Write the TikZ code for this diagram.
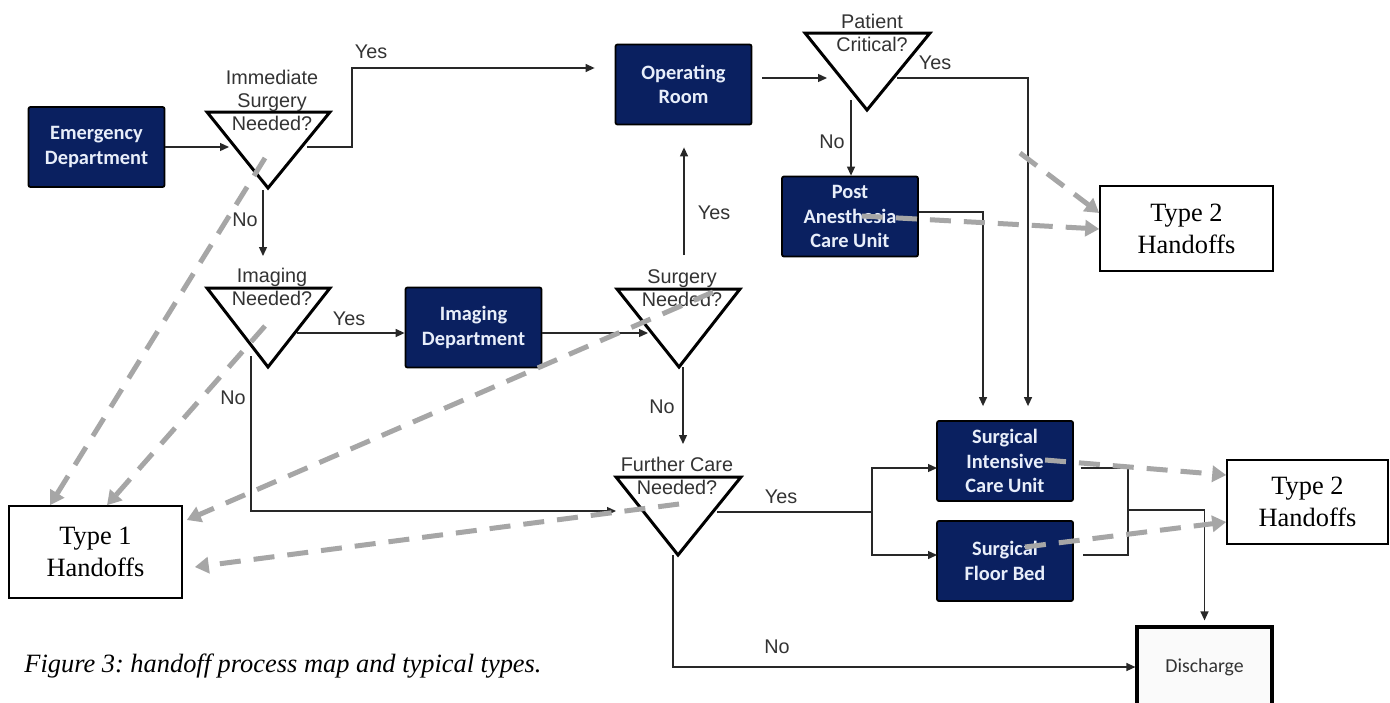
\documentclass[tikz,border=0pt]{standalone}
\usepackage{fontspec}
\setmainfont{Liberation Serif}
\newfontfamily\labelfont{Liberation Sans}
\newfontfamily\boxfont{Carlito}
\usetikzlibrary{arrows.meta}
\definecolor{navy}{RGB}{10,32,96}
\definecolor{handoff}{RGB}{166,166,166}
\definecolor{wire}{RGB}{40,40,40}
\definecolor{boxtext}{RGB}{232,238,250}
\frenchspacing

\begin{document}
\begin{tikzpicture}[x=0.5pt,y=-0.5pt,
  unit/.style={draw=black, line width=0.9pt, fill=navy, rounded corners=1pt,
    text=boxtext, font=\boxfont\bfseries\fontsize{10.2}{12.25}\selectfont,
    align=center, inner sep=0pt, minimum width=68pt, minimum height=40pt},
  exitbox/.style={draw=black, line width=1.6pt, fill=white!98!black,
    text=black!80, font=\boxfont\fontsize{9.9}{12}\selectfont,
    inner sep=0pt, minimum width=67.5pt, minimum height=40pt},
  decision/.style={draw=black, line width=1.5pt, fill=white, line join=miter},
  question/.style={font=\labelfont\fontsize{9.9}{11.5}\selectfont, text=black!80,
    align=center, inner sep=0pt},
  lbl/.style={font=\labelfont\fontsize{9.9}{11.5}\selectfont, text=black!80, inner sep=0pt},
  typebox/.style={draw=black, line width=0.8pt, fill=white, align=center,
    font=\fontsize{13.2}{16}\selectfont, inner sep=0pt},
  wireline/.style={draw=wire, line width=0.65pt},
  flow/.style={wireline, -{Triangle[length=4.5pt,width=4pt]}},
  hand/.style={draw=handoff, line width=2.5pt, dash pattern=on 10.5pt off 6.5pt,
    -{Triangle[length=7pt,width=8pt]}}
]
\fill[white] (0,0) rectangle (1390,702);
\useasboundingbox (0,0) rectangle (1390,702);

% ---------- process units ----------
\node[unit] (ed)   at (96.5,147)  {Emergency\\Department};
\node[unit] (or)   at (683.5,84.5) {Operating\\Room};
\node[unit] (pacu) at (850,216.5) {Post\\Anesthesia\\Care Unit};
\node[unit] (id)   at (473.5,327.5) {Imaging\\Department};
\node[unit] (sicu) at (1005,461)  {Surgical\\Intensive\\Care Unit};
\node[unit] (sfb)  at (1005,561)  {Surgical\\Floor Bed};
\node[exitbox] (dis) at (1204.5,667) {Discharge};

% ---------- decision triangles ----------
\draw[decision] (207,112) -- (330,112) -- (268,188) -- cycle;
\draw[decision] (207,288) -- (330,288) -- (268,367) -- cycle;
\draw[decision] (617,289) -- (740,289) -- (679,367) -- cycle;
\draw[decision] (805,33)  -- (930,33)  -- (867,110) -- cycle;
\draw[decision] (616,477) -- (741,477) -- (678,555) -- cycle;

\node[question] (q1) at (272,100)   {Immediate\\Surgery\\Needed?};
\node[question] (q2) at (272,286.5) {Imaging\\Needed?};
\node[question] (q3) at (682,288)   {Surgery\\Needed?};
\node[question] (q4) at (872,32.5)  {Patient\\Critical?};
\node[question] (q5) at (677,476)   {Further Care\\Needed?};

% ---------- handoff boxes ----------
\node[typebox, minimum width=86.5pt, minimum height=46pt]   (h1) at (95.5,552)   {Type 1\\Handoffs};
\node[typebox, minimum width=86.5pt, minimum height=42.5pt] (h2) at (1186.5,228.5) {Type 2\\Handoffs};
\node[typebox, minimum width=80.5pt, minimum height=42pt]   (h3) at (1307.5,502) {Type 2\\Handoffs};

% ---------- ports on the triangles ----------
\coordinate (q1in)  at (229,147);
\coordinate (q1out) at (307,147);
\coordinate (q1bend) at (352,68);
\coordinate (q1low) at (263,190);
\coordinate (q2top) at (263,256);
\coordinate (q2out) at (297,333);
\coordinate (q2low) at (251,356);
\coordinate (q3in)  at (648,333);
\coordinate (q3up)  at (684,255);
\coordinate (q3low) at (683,367);
\coordinate (q5top) at (683,444);
\coordinate (q4in)  at (827,78);
\coordinate (q4out) at (897,78);
\coordinate (q4bend) at (1028,78);
\coordinate (q4low) at (851,100);
\coordinate (pbend) at (983,212);
\coordinate (q5in)  at (616,511);
\coordinate (q5out) at (717,512);
\coordinate (q5low) at (673,555);
\coordinate (fork)  at (872,512);
\coordinate (sicuin) at (937,468);
\coordinate (sfbin)  at (937,555);
\coordinate (m1) at (1128,468);
\coordinate (m2) at (1128,555);
\coordinate (mj) at (1128,510);

% ---------- process flow ----------
\draw[flow] (ed.east |- q1in) -- (q1in);
\draw[flow, shorten >=10pt] (q1out) -| (q1bend) -- (or.west |- q1bend);
\draw[flow] (q1low) -- (q2top);
\draw[flow] (q2out) -- (id.west |- q2out);
\draw[flow] (q2low) |- (q5in);
\draw[flow] (id.east |- q3in) -- (q3in);
\draw[flow, shorten >=11pt] (q3up) -- (q3up |- or.south);
\draw[flow] (q3low) -- (q5top);
\draw[flow] ([xshift=5pt]or.east |- q4in) -- (q4in);
\draw[flow, shorten >=7pt] (q4out) -- (q4bend) -- (q4bend |- sicu.north);
\draw[flow] (q4low) -- (q4low |- pacu.north);
\draw[flow, shorten >=7pt] (pacu.east |- pbend) -- (pbend) -- (pbend |- sicu.north);
\draw[wireline] (q5out) -- (fork);
\draw[flow] (fork) |- (sicuin);
\draw[flow] (fork) |- (sfbin);
\draw[flow] (q5low) |- (dis.west);
\draw[wireline] ([xshift=3.5pt]sicu.east |- m1) -- (m1) -- (m2) -- ([xshift=4.5pt]sfb.east |- m2);
\draw[flow, shorten >=2.5pt] (mj) -| (dis.north);

% ---------- branch labels ----------
\node[lbl] (y1) at (371,52)  {Yes};
\node[lbl] (n1) at (245,220) {No};
\node[lbl] (y2) at (349,319) {Yes};
\node[lbl] (n2) at (233,398) {No};
\node[lbl] (y3) at (714,213) {Yes};
\node[lbl] (n3) at (662,407) {No};
\node[lbl] (y4) at (935,63)  {Yes};
\node[lbl] (n4) at (832,142) {No};
\node[lbl] (y5) at (781,497) {Yes};
\node[lbl] (n5) at (777,647) {No};

% ---------- handoff links ----------
\coordinate (a1) at (265,158);
\coordinate (a2) at (265,326);
\coordinate (a3) at (713,292);
\coordinate (a4) at (679,504);
\coordinate (a5) at (1020,153);
\coordinate (a6) at (862,216);
\coordinate (a7) at (1045,460);
\coordinate (a8) at (1025,547);
\draw[hand] (a1) -- (h1.north -| 50,0);
\draw[hand] (a2) -- (h1.north -| 107,0);
\draw[hand] (a3) -- ([xshift=2pt]h1.east |- 0,520);
\draw[hand] (a4) -- ([xshift=6pt]h1.east |- 0,567);
\draw[hand] (a5) -- (h2.west |- 0,213);
\draw[hand] (a6) -- (h2.west |- 0,229);
\draw[hand] (a7) -- (h3.west |- 0,475);
\draw[hand] (a8) -- (h3.west |- 0,522);

% ---------- caption ----------
\node[anchor=west, inner sep=0pt, font=\itshape\fontsize{13.2}{16}\selectfont] (cap) at (24,666)
  {Figure 3: handoff process map and typical types.};
\end{tikzpicture}
\end{document}
